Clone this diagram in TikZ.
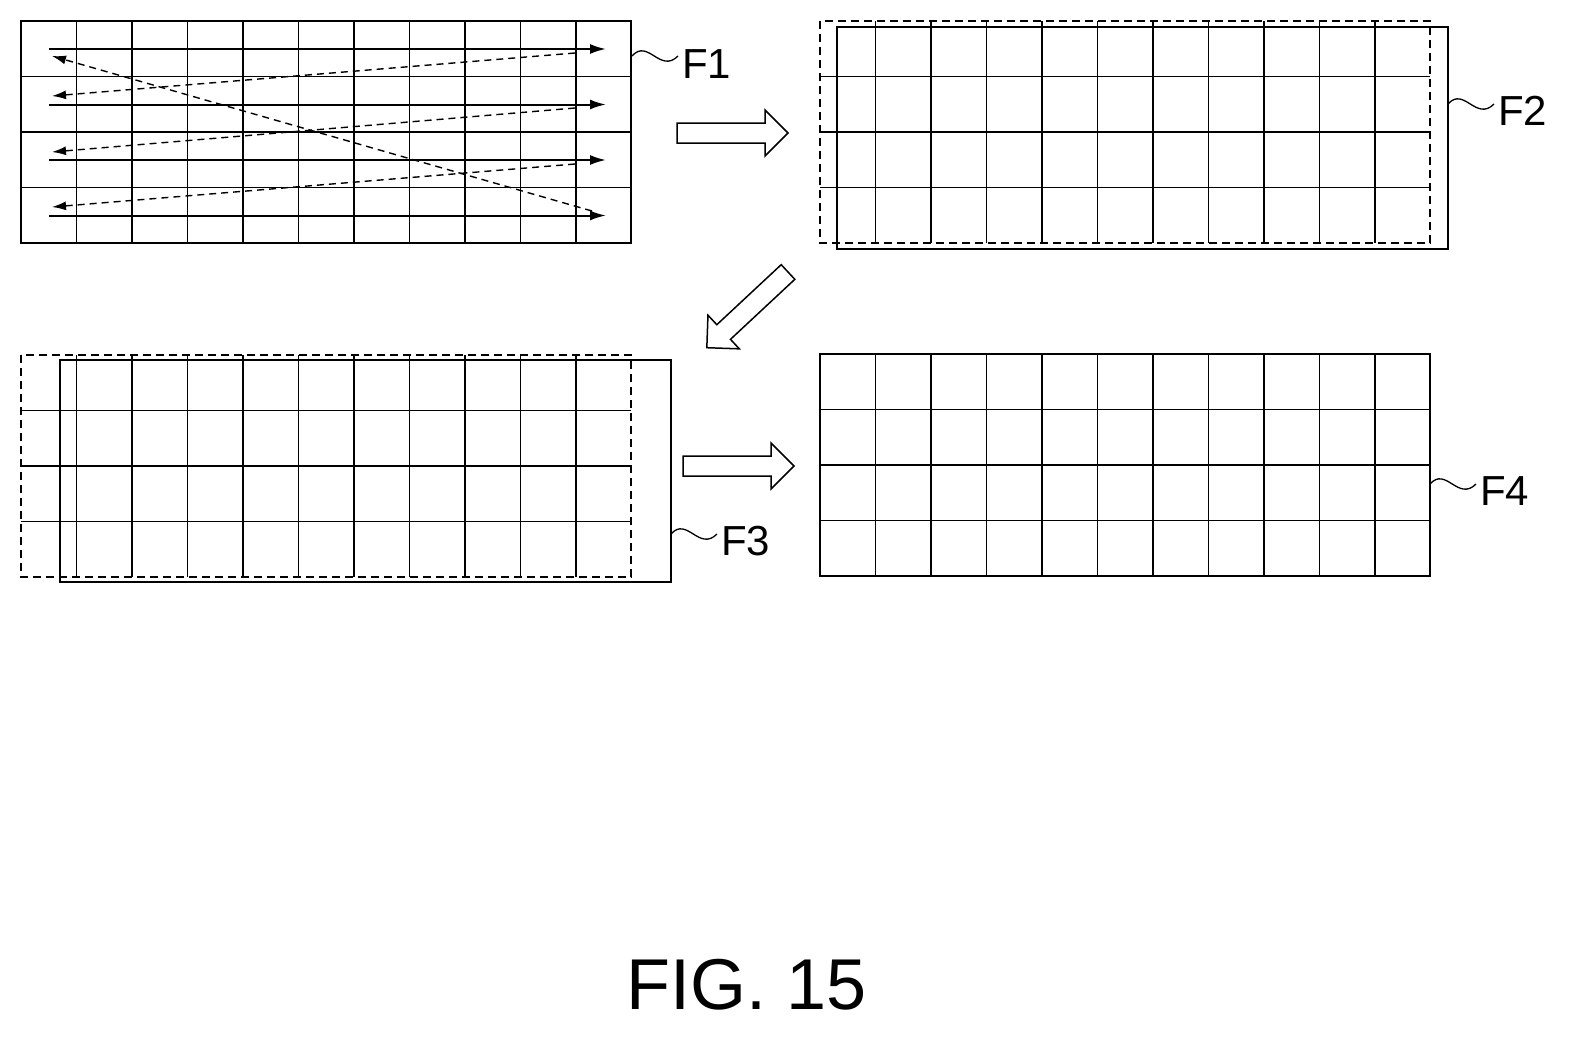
\documentclass[tikz,border=0pt]{standalone}
\usepackage{fontspec}
\setmainfont{Liberation Sans}
\usetikzlibrary{arrows.meta}
\begin{document}
\begin{tikzpicture}[x=1pt,y=-1pt,
  frame/.style={line width=2pt},
  grid/.style={line width=1.2pt},
  dsh/.style={line width=1.6pt,dash pattern=on 8pt off 5pt},
  flow/.style={line width=2pt,-{Latex[length=16pt,width=10pt]}},
  back/.style={line width=1.4pt,dash pattern=on 7pt off 5pt,-{Latex[length=14pt,width=9pt]}},
  blk/.style={line width=1.5pt,fill=white},
  lbl/.style={font=\fontsize{42}{42}\selectfont,anchor=west,inner sep=0pt},
  tl/.style={line width=1.3pt}]
\useasboundingbox (0,0) rectangle (1570,1036);
\newcommand{\mygrid}[2]{%
  \foreach \i in {1,...,10} \draw[grid] ({#1+\i*55.5},#2) -- ({#1+\i*55.5},{#2+222});
  \foreach \j in {1,2,3} \draw[grid] (#1,{#2+\j*55.5}) -- ({#1+610},{#2+\j*55.5});}
% F1
\mygrid{21}{21}
\draw[frame] (21,21) rectangle (631,243);
\foreach \y [count=\k] in {49,104.5,160,215.5} {\coordinate (s\k) at (49,\y); \coordinate (e\k) at (606,\y); \draw[flow] (s\k) -- (e\k);}
\coordinate (r1) at (575,53); \coordinate (l1) at (52,96);
\coordinate (r2) at (575,108); \coordinate (l2) at (52,152);
\coordinate (r3) at (575,164); \coordinate (l3) at (52,207);
\coordinate (dA) at (592,211); \coordinate (dB) at (52,56);
\draw[back] (r1) -- (l1); \draw[back] (r2) -- (l2); \draw[back] (r3) -- (l3);
\draw[back] (dA) -- (dB);
\coordinate (t1) at (632,56);
\draw[tl] (t1) .. controls (648,38) and (660,74) .. (678,56);
\node[lbl] (F1) at (682,64) {F1};
% F2
\mygrid{820}{21}
\draw[dsh] (820,21) rectangle (1430,243);
\draw[frame] (837,27) rectangle (1448,249);
\coordinate (t2) at (1448,104);
\draw[tl] (t2) .. controls (1464,86) and (1476,122) .. (1494,104);
\node[lbl] (F2) at (1498,111) {F2};
% F3
\mygrid{21}{355}
\draw[dsh] (21,355) rectangle (631,577);
\draw[frame] (60,360) rectangle (671,582);
\coordinate (t3) at (671,534);
\draw[tl] (t3) .. controls (687,516) and (699,552) .. (717,534);
\node[lbl] (F3) at (721,541) {F3};
% F4
\mygrid{820}{354}
\draw[frame] (820,354) rectangle (1430,576);
\coordinate (t4) at (1430,484);
\draw[tl] (t4) .. controls (1446,466) and (1458,502) .. (1476,484);
\node[lbl] (F4) at (1480,491) {F4};
% block arrows
\newcommand{\blockarrow}[3]{%
  \draw[blk,shift={(#1,#2)},rotate=#3] (0,-10) -- (88,-10) -- (88,-23) -- (111,0) -- (88,23) -- (88,10) -- (0,10) -- cycle;}
\blockarrow{677}{133}{0}
\blockarrow{683}{466}{0}
\blockarrow{788}{272}{-137}
\node[font=\fontsize{72}{72}\selectfont] (cap) at (747,985) {FIG. 15};
\end{tikzpicture}
\end{document}
